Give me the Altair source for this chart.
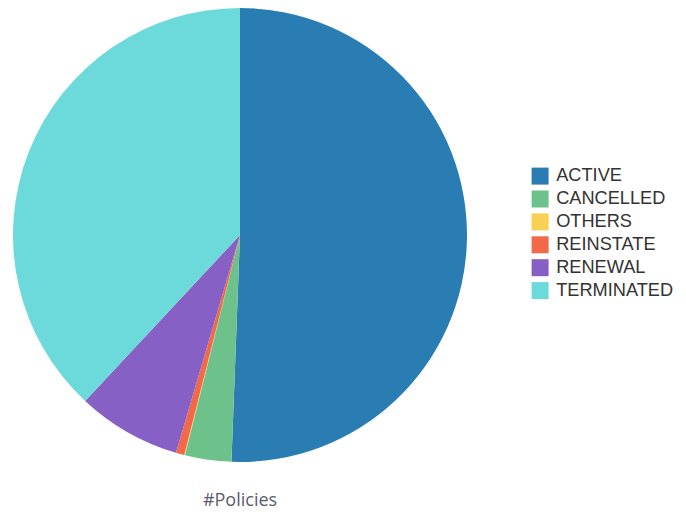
import altair as alt
import pandas as pd

statuses = ["ACTIVE", "CANCELLED", "OTHERS", "REINSTATE", "RENEWAL", "TERMINATED"]
policies = [5060, 330, 5, 60, 740, 3805]
colors = ["#2a7db3", "#6cc28a", "#f8d053", "#f2694a", "#8660c5", "#6cd9db"]

df = pd.DataFrame({"status": statuses, "policies": policies, "idx": list(range(len(statuses)))})

chart = (
    alt.Chart(df)
    .mark_arc(outerRadius=227, stroke=None)
    .encode(
        theta=alt.Theta("policies:Q", stack=True),
        color=alt.Color(
            "status:N",
            scale=alt.Scale(domain=statuses, range=colors),
            legend=alt.Legend(
                title=None,
                orient="none",
                legendX=523,
                legendY=159,
                symbolType="square",
                symbolSize=289,
                symbolStrokeWidth=0,
                labelFontSize=18.2,
                labelFont="Liberation Sans",
                labelColor="#333333",
                labelOffset=7,
                rowPadding=3.9,
                labelLimit=300,
            ),
        ),
        order=alt.Order("idx:Q", sort="ascending"),
    )
    .properties(
        width=464,
        height=454,
        title=alt.TitleParams(
            text="#Policies",
            orient="bottom",
            anchor="middle",
            offset=30,
            fontSize=18,
            fontWeight="normal",
            font="Open Sans",
            color="#5b5b70",
        ),
        autosize=alt.AutoSizeParams(type="none"),
        padding={"left": 0, "top": 0, "right": 206, "bottom": 52},
    )
    .configure_view(stroke=None)
)

chart.save("out.html", embed_options={"renderer": "svg", "actions": False})
